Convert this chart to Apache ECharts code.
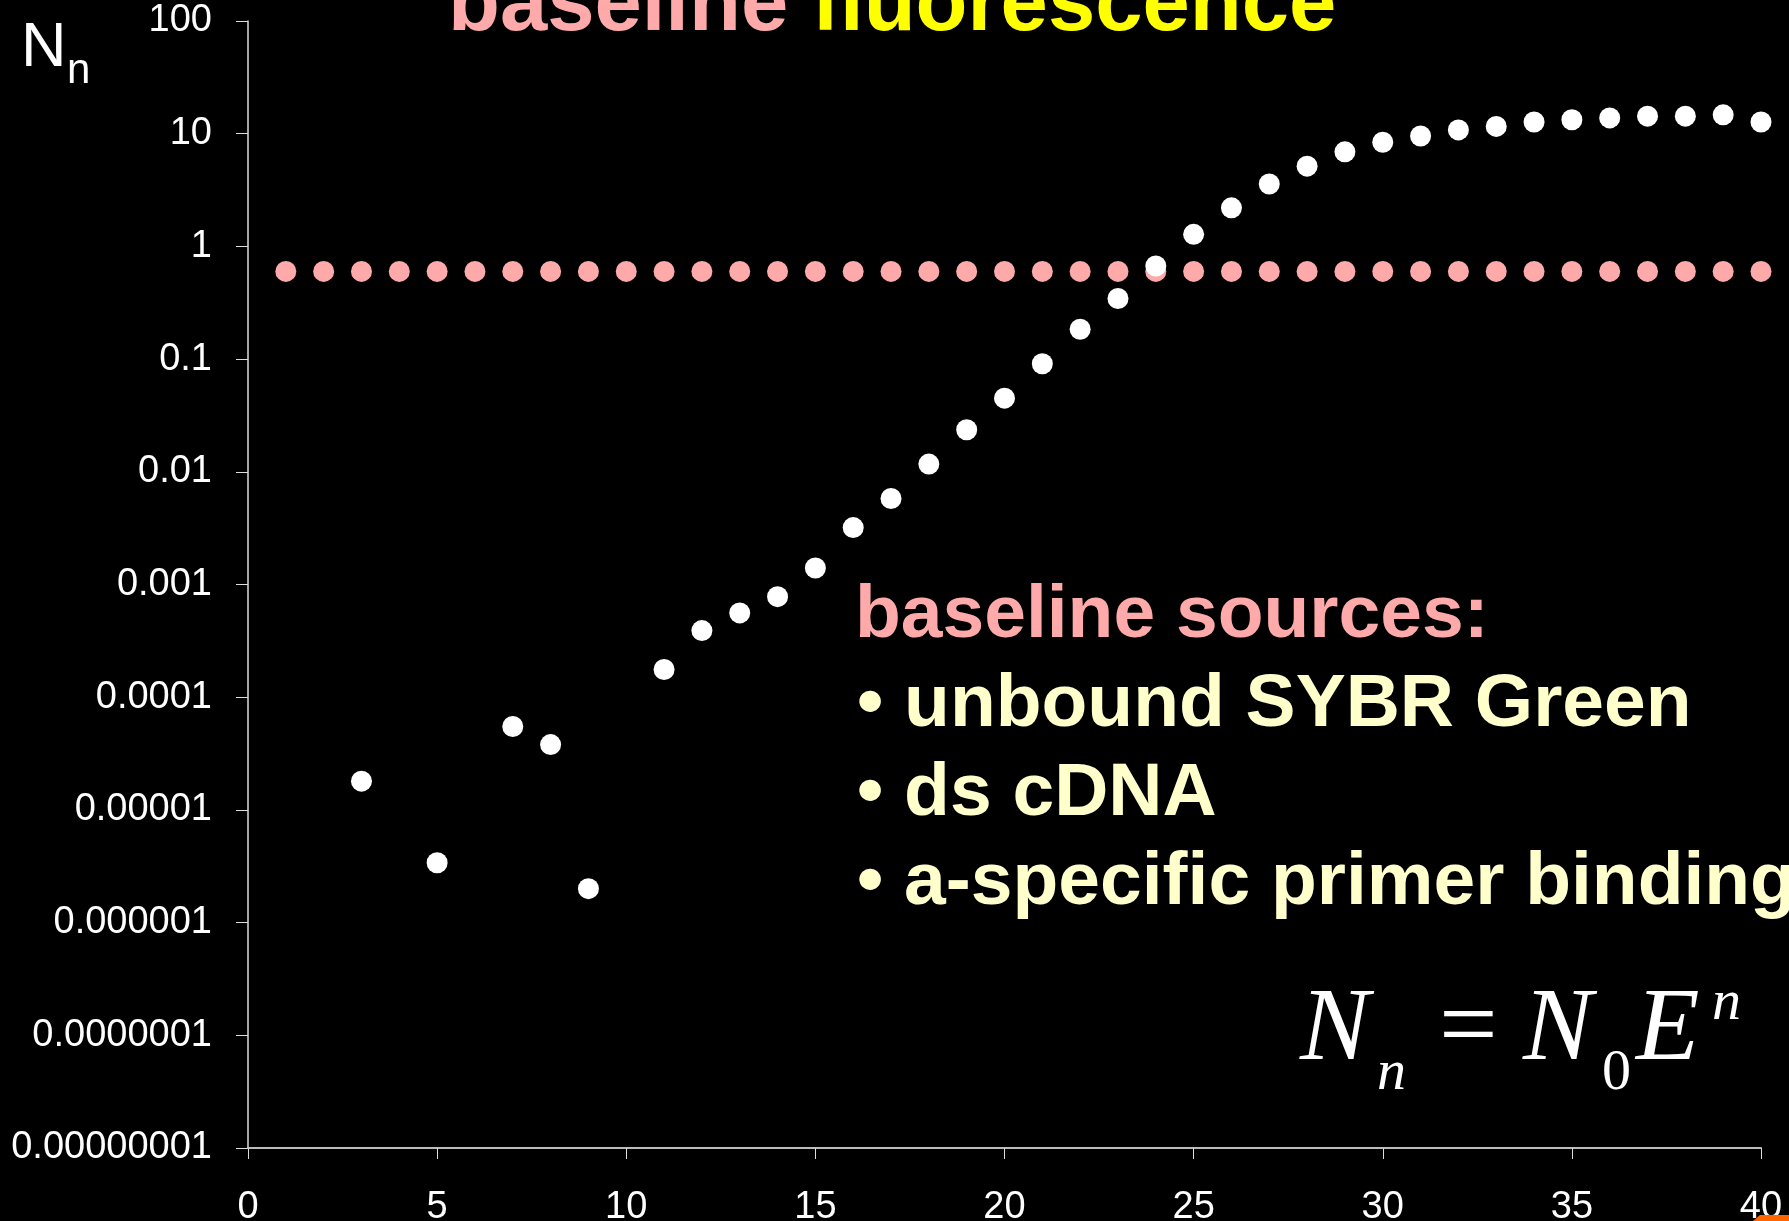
<!DOCTYPE html>
<html>
<head>
<meta charset="utf-8">
<title>baseline fluorescence</title>
<script src="https://cdn.jsdelivr.net/npm/echarts@6/dist/echarts.min.js"></script>
<style>
  html, body { margin: 0; padding: 0; background: #000; }
  #chart { width: 1789px; height: 1221px; }
</style>
</head>
<body>
<div id="chart"></div>
<script>
// cycle numbers for the pink baseline dots
const baselineCycles = [1, 2, 3, 4, 5, 6, 7, 8, 9, 10, 11, 12, 13, 14, 15, 16, 17, 18, 19, 20,
  21, 22, 23, 24, 25, 26, 27, 28, 29, 30, 31, 32, 33, 34, 35, 36, 37, 38, 39, 40]
const baselineValues = [0.6, 0.6, 0.6, 0.6, 0.6, 0.6, 0.6, 0.6, 0.6, 0.6, 0.6, 0.6, 0.6, 0.6, 0.6, 0.6, 0.6, 0.6, 0.6, 0.6,
  0.6, 0.6, 0.6, 0.6, 0.6, 0.6, 0.6, 0.6, 0.6, 0.6, 0.6, 0.6, 0.6, 0.6, 0.6, 0.6, 0.6, 0.6, 0.6, 0.6]

// amplification curve (white dots)
const ampCycles = [3, 5, 7, 8, 9, 11, 12, 13, 14, 15, 16, 17, 18, 19, 20, 21, 22, 23, 24, 25,
  26, 27, 28, 29, 30, 31, 32, 33, 34, 35, 36, 37, 38, 39, 40]
const ampValues = [1.8e-5, 3.4e-6, 5.5e-5, 3.8e-5, 2.0e-6, 1.76e-4, 3.9e-4, 5.6e-4, 7.8e-4, 1.4e-3,
  3.2e-3, 5.8e-3, 0.0117, 0.0236, 0.045, 0.091, 0.184, 0.345, 0.67, 1.28,
  2.2, 3.58, 5.15, 6.9, 8.4, 9.55, 10.8, 11.6, 12.7, 13.3, 13.8, 14.3, 14.3, 14.7, 12.7]

const yTickLabels = ['0.00000001', '0.0000001', '0.000001', '0.00001', '0.0001', '0.001',
  '0.01', '0.1', '1', '10', '100']

const PINK = '#ffaaaa'
const CREAM = '#ffffcc'
const SANS = "'Liberation Sans', Arial, sans-serif"
const SERIF = "'Liberation Serif', 'Times New Roman', serif"

// place text by its baseline (zrender draws with middle baseline)
function txt(text, x, base, fs, color, opts) {
  opts = opts || {}
  const fam = opts.family || SANS
  const k = fam === SERIF ? 0.34 : 0.3465
  return {
    type: 'text',
    x: x,
    y: base - k * fs,
    z: 100,
    style: {
      text: text,
      fill: color,
      font: (opts.italic ? 'italic ' : '') + (opts.bold ? 'bold ' : '') + fs + 'px ' + fam,
      verticalAlign: 'middle',
      align: 'left'
    }
  }
}

var myChart = echarts.init(document.getElementById('chart'))

const option = {
  backgroundColor: '#000',
  animation: false,
  grid: { left: 248, right: 28, top: 21, bottom: 73, containLabel: false, outerBoundsMode: 'none' },
  xAxis: {
    type: 'value',
    min: 0,
    max: 40,
    interval: 5,
    splitLine: { show: false },
    axisLine: { lineStyle: { color: '#bbbbbb', width: 2 } },
    axisTick: { length: 11, lineStyle: { color: '#dddddd', width: 1 } },
    axisLabel: { color: '#fff', fontSize: 38, fontFamily: SANS, margin: 41 }
  },
  yAxis: {
    type: 'log',
    logBase: 10,
    min: 1e-8,
    max: 100,
    interval: 1,
    splitLine: { show: false },
    axisLine: { show: true, lineStyle: { color: '#dddddd', width: 1.5 } },
    axisTick: { show: true, length: 12, lineStyle: { color: '#dddddd', width: 1 } },
    axisLabel: {
      color: '#fff',
      fontSize: 38,
      fontFamily: SANS,
      margin: 36,
      padding: [12, 0, 0, 0],
      formatter: function (v) {
        const i = Math.round(Math.log10(v)) + 8
        return yTickLabels[i] !== undefined ? yTickLabels[i] : ''
      }
    }
  },
  series: [
    {
      name: 'baseline',
      type: 'scatter',
      symbol: 'circle',
      symbolSize: 21,
      itemStyle: { color: PINK, opacity: 1 },
      data: baselineCycles.map((c, i) => [c, baselineValues[i]])
    },
    {
      name: 'amplification',
      type: 'scatter',
      symbol: 'circle',
      symbolSize: 21,
      z: 3,
      itemStyle: { color: '#ffffff', opacity: 1 },
      data: ampCycles.map((c, i) => [c, ampValues[i]])
    }
  ],
  graphic: [
    // title, cut off at the top edge
    {
      type: 'text',
      x: 448,
      y: 36 - 0.3465 * 85,
      z: 100,
      style: {
        text: '{p|baseline\u00a0}{y|fluorescence}',
        verticalAlign: 'middle',
        rich: {
          p: { fill: PINK, font: 'bold 85px ' + SANS },
          y: { fill: '#ffff00', font: 'bold 85px ' + SANS }
        }
      }
    },
    // y axis name N_n
    txt('N', 21, 70, 63, '#fff'),
    txt('n', 67, 86, 42, '#fff'),
    // annotation block
    txt('baseline sources:', 855, 642, 75, PINK, { bold: true }),
    txt('\u2022 unbound SYBR Green', 857, 731, 75, CREAM, { bold: true }),
    txt('\u2022 ds cDNA', 857, 820, 75, CREAM, { bold: true }),
    txt('\u2022 a-specific primer binding', 857, 909, 75, CREAM, { bold: true }),
    // formula N_n = N_0 E^n
    txt('N', 1300, 1067, 104, '#fff', { family: SERIF, italic: true }),
    txt('n', 1377, 1093, 58, '#fff', { family: SERIF, italic: true }),
    txt('=', 1439, 1067, 104, '#fff', { family: SERIF }),
    txt('N', 1523, 1067, 104, '#fff', { family: SERIF, italic: true }),
    txt('0', 1602, 1093, 58, '#fff', { family: SERIF }),
    txt('E', 1636, 1067, 104, '#fff', { family: SERIF, italic: true }),
    txt('n', 1712, 1023, 58, '#fff', { family: SERIF, italic: true }),
    // small orange mark in the bottom right corner
    {
      type: 'polygon',
      z: 100,
      shape: { points: [[1753, 1221], [1760, 1215], [1789, 1215], [1789, 1221]] },
      style: { fill: '#ff6600' }
    }
  ]
}

myChart.setOption(option)
</script>
</body>
</html>
